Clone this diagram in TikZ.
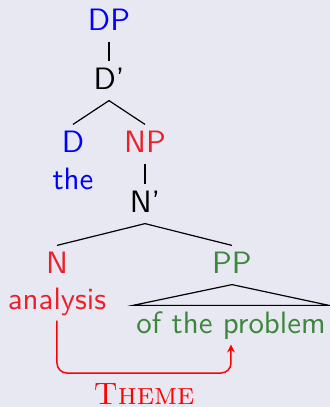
\documentclass[tikz,border=0pt]{standalone}
\usetikzlibrary{arrows.meta}
\definecolor{bgcol}{RGB}{232,232,242}
\definecolor{catblue}{RGB}{0,0,255}
\definecolor{catred}{RGB}{236,32,42}
\definecolor{catgreen}{RGB}{60,135,60}
\begin{document}
\begin{tikzpicture}[x=0.3333pt,y=0.3333pt,
    every node/.style={font=\fontsize{10.3}{12}\selectfont\sffamily,
        inner sep=2pt, text height=7pt, text depth=1.67pt, anchor=base},
    branch/.style={line width=0.4pt}]
    \fill[bgcol] (0,0) rectangle (330,407);
    \useasboundingbox (0,0) rectangle (330,407);
    \node[text=catblue] (dp) at (109,377) {DP};
    \node (dbar) at (109,318) {D'};
    \node[text=catblue] (d) at (73,255) {D};
    \node[text=catred] (np) at (145,255) {NP};
    \node[text=catblue] (the) at (73,218) {the};
    \node (nbar) at (145,195) {N'};
    \node[text=catred] (n) at (57,134) {N};
    \node[text=catgreen] (pp) at (232,134) {PP};
    \node[text=catred] (ana) at (57,98) {analysis};
    \node[text=catgreen, inner xsep=1pt] (prob) at (231,74) {of the problem};
    \coordinate (bend) at (57,34);
    \draw[branch] (dp.south) -- (dbar.north);
    \draw[branch] (dbar.south) -- (d.north);
    \draw[branch] (dbar.south) -- (np.north);
    \draw[branch] (np.south) -- (nbar.north);
    \draw[branch] (nbar.south) -- (n.north);
    \draw[branch] (nbar.south) -- (pp.north);
    \draw[branch] (pp.south) -- (prob.north west) -- (prob.north east) -- cycle;
    \draw[red, line width=0.5pt, rounded corners=3.3pt,
        -{Stealth[length=2.6pt,width=2.6pt]}]
        (ana.south) -- (bend) -| node[pos=0.25, below=1.4pt, text=red,
            font=\fontsize{10.3}{12}\selectfont\rmfamily\scshape] (role) {Theme}
        (prob.south);
\end{tikzpicture}
\end{document}
